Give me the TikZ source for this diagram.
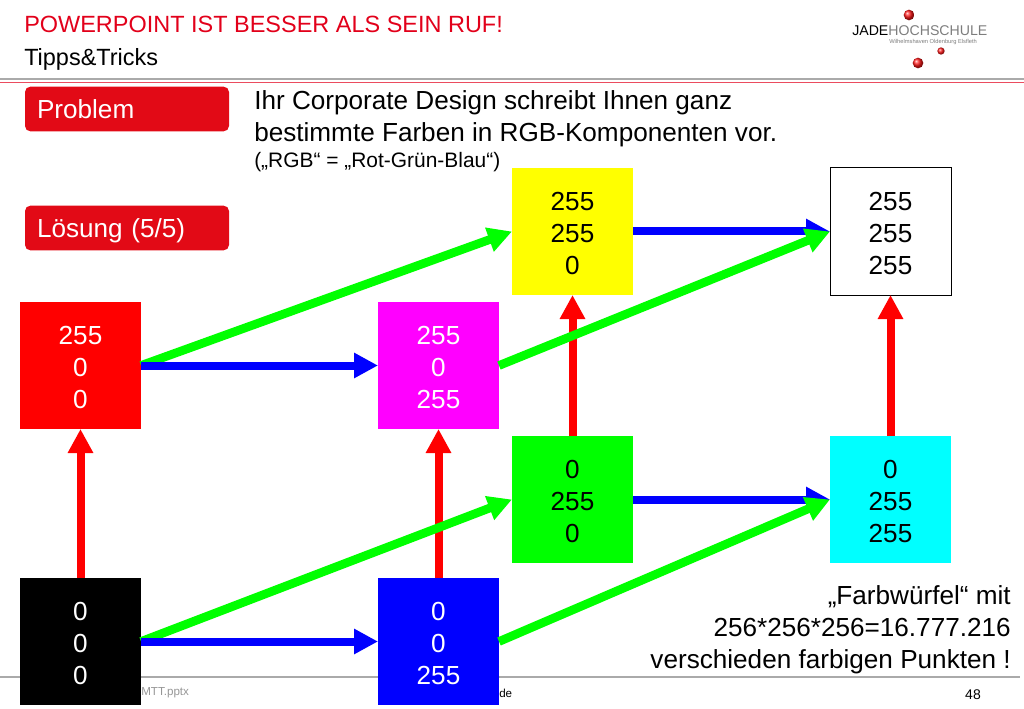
\documentclass[tikz,border=0pt]{standalone}
\usepackage{fontspec}
\setmainfont{Liberation Sans}
\usepackage{tikz}
\usetikzlibrary{positioning,arrows.meta,shadings}
\definecolor{colorhead}{RGB}{226,0,26}
\definecolor{colorbtn}{RGB}{226,10,22}
\definecolor{colorrule}{RGB}{170,170,170}
\definecolor{colorsub}{RGB}{150,150,150}
\definecolor{colorlogo}{RGB}{125,125,125}
\definecolor{pureblue}{RGB}{0,0,255}
\definecolor{purered}{RGB}{255,0,0}
\definecolor{puregreen}{RGB}{0,255,0}
\definecolor{puremagenta}{RGB}{255,0,255}
\definecolor{purecyan}{RGB}{0,255,255}
\definecolor{pureyellow}{RGB}{255,255,0}

\begin{document}
\begin{tikzpicture}[
    x=0.75pt, y=-0.75pt,
    font={\fontsize{19.6}{24}\selectfont},
    cube/.style={minimum width=90.75pt,minimum height=95.25pt,text width=90pt,inner sep=0pt,align=center,rectangle,outer sep=0pt,execute at begin node={\rule{0pt}{16.5pt}}},
    btn/.style={fill=colorbtn,text=white,rounded corners=4pt,minimum width=153pt,minimum height=33.5pt,text width=135pt,inner sep=0pt,align=left,execute at begin node={\rule[-4pt]{0pt}{23pt}}},
    red arrow/.style={-{Triangle[length=18pt,width=18pt]},line width=6pt,purered},
    blue arrow/.style={-{Triangle[length=18pt,width=18pt]},line width=6pt,pureblue},
    green arrow/.style={-{Triangle[length=18pt,width=18pt]},line width=6.5pt,puregreen},
    txt/.style={inner sep=0pt,align=left},
    ball/.style={circle,inner sep=0pt,ball color=red!90!white,shading=ball},
]
    \useasboundingbox (0,0) rectangle (1024,709);

    \draw[colorrule,line width=1.1pt] (0,79) coordinate (headl) -- (1024,79) coordinate (headr);
    \draw[colorhead!70,line width=0.4pt] (0,82) coordinate (redl) -- (1024,82) coordinate (redr);
    \draw[colorrule,line width=1pt] (0,677) coordinate (footl) -- (1020,677) coordinate (footr);

    \node[txt,anchor=west,text=colorhead,font={\fontsize{17.6}{20}\selectfont}] at (24,24) (title) {POWERPOINT IST BESSER ALS SEIN RUF!};
    \node[txt,anchor=west,font={\fontsize{17.6}{20}\selectfont}] at (24,59) (subtitle) {Tipps\&Tricks};

    % logo
    \node[ball,minimum size=8pt] at (909,15) (ballA) {};
    \node[ball,minimum size=5.5pt] at (941,51) (ballB) {};
    \node[ball,minimum size=8pt] at (918,63) (ballC) {};
    \node[txt,anchor=west,font={\fontsize{10.6}{11}\selectfont}] at (852,31) (logo) {JADE\textcolor{colorlogo}{HOCHSCHULE}};
    \node[txt,anchor=west,text=colorlogo,font={\fontsize{4.3}{5}\selectfont}] at (889,42) (logosub) {Wilhelmshaven Oldenburg Elsfleth};

    \node[btn] at (127,109) (problem) {Problem};
    \node[btn] at (127,228) (loesung) {Lösung (5/5)};

    \node[txt,anchor=north west] at (254,90) (ihr) {Ihr Corporate Design schreibt Ihnen ganz\\bestimmte Farben in RGB-Komponenten vor.};
    \node[txt,anchor=west,font={\fontsize{15.7}{18}\selectfont}] at (254,162) (rgb) {(„RGB“ = „Rot-Grün-Blau“)};

    % footer
    \node[txt,anchor=west,text=colorsub,font={\fontsize{8.7}{10}\selectfont}] at (141,693) (file) {MTT.pptx};
    \node[txt,anchor=west,font={\fontsize{8.7}{10}\selectfont}] at (499,693) (fhint) {de};
    \node[txt,anchor=center,font={\fontsize{10.5}{12}\selectfont}] at (973,695) (page) {48};

    % corners of the cube
    \node[cube,fill=black,text=white] at (80.5,641.5) (black) {0\\0\\0};
    \node[cube,fill=pureblue,text=white] at (438.5,641.5) (blue) {0\\0\\255};
    \node[cube,fill=purered,text=white] at (80.5,365.5) (red) {255\\0\\0};
    \node[cube,fill=puremagenta,text=white] at (438.5,365.5) (magenta) {255\\0\\255};
    \node[cube,fill=puregreen] at (572.5,499.5) (green) {0\\255\\0};
    \node[cube,fill=purecyan] at (890.5,499.5) (cyan) {0\\255\\255};
    \node[cube,fill=pureyellow] at (572.5,231.5) (yellow) {255\\255\\0};
    \node[cube,draw=black,line width=0.75pt] at (890.5,231.5) (white) {255\\255\\255};

    \draw[red arrow] (black) -- (red);
    \draw[red arrow] (blue) -- (magenta);
    \draw[red arrow] (green) -- (yellow);
    \draw[red arrow] (cyan) -- (white);

    \draw[blue arrow] (green) -- (cyan);
    \draw[blue arrow] (yellow) -- (white);

    \draw[green arrow] (black.east) -- (green.west);
    \draw[green arrow] (blue.east) -- (cyan.west);
    \draw[green arrow] (red.east) -- (yellow.west);
    \draw[green arrow] (magenta.east) -- (white.west);

    \draw[blue arrow] (black) -- (blue);
    \draw[blue arrow] (red) -- (magenta);

    \node[anchor=north east,inner sep=0pt,align=right] at (1011,585) (cubetxt) {„Farbwürfel“ mit\\256*256*256=16.777.216\\verschieden farbigen Punkten !};
\end{tikzpicture}
\end{document}
